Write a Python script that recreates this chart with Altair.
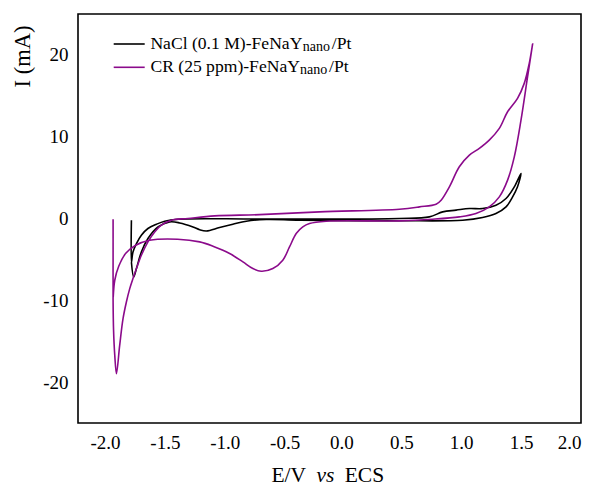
import altair as alt
import pandas as pd

# ---- data (E in V vs ECS, I in mA) ----
nacl_E = [-1.754, -1.754, -1.741, -1.712, -1.671, -1.616, -1.545, -1.476, -1.365, -0.684,
          0.484, 0.734, 0.845, 0.957, 1.068, 1.178, 1.290, 1.374, 1.443, 1.499,
          1.470, 1.429, 1.374, 1.290, 1.178, 1.012, 0.484, -0.350, -0.628, -0.795,
          -0.907, -1.018, -1.128, -1.184, -1.240, -1.351, -1.435, -1.532, -1.616, -1.671,
          -1.712, -1.735, -1.754]
nacl_I = [-0.21, -5.35, -4.09, -3.06, -2.04, -1.22, -0.70, -0.33, -0.09, -0.06,
          0.00, 0.20, 0.81, 1.02, 1.22, 1.22, 1.63, 2.45, 3.87, 5.51,
          3.87, 2.64, 1.42, 0.61, 0.12, -0.21, -0.27, -0.21, -0.12, -0.33,
          -0.70, -1.10, -1.52, -1.37, -1.03, -0.54, -0.42, -1.03, -2.45, -4.09,
          -6.12, -7.15, -5.35]

cr_E = [-1.907, -1.907, -1.907, -1.903, -1.893, -1.879, -1.852, -1.824, -1.796, -1.768,
        -1.741, -1.712, -1.671, -1.616, -1.560, -1.504, -1.420, -1.282, -1.059, -0.684,
        -0.183, 0.484, 0.651, 0.790, 0.832, 0.901, 0.984, 1.068, 1.151, 1.234,
        1.318, 1.387, 1.470, 1.526, 1.568, 1.596, 1.554, 1.499, 1.443, 1.387,
        1.318, 1.234, 1.123, 0.984, 0.761, 0.484, -0.128, -0.267, -0.323, -0.378,
        -0.434, -0.490, -0.573, -0.670, -0.740, -0.823, -0.934, -1.073, -1.184, -1.368,
        -1.601, -1.718, -1.801, -1.860, -1.893, -1.906]
cr_I = [-0.09, -5.10, -10.0, -13.67, -16.73, -18.97, -15.51, -12.24, -10.21, -8.57,
        -7.34, -6.12, -4.49, -2.86, -1.64, -0.82, -0.21, 0.00, 0.32, 0.47,
        0.81, 1.14, 1.42, 1.75, 2.24, 3.87, 6.32, 7.75, 8.57, 9.58,
        11.02, 13.05, 14.69, 16.52, 18.97, 21.33, 17.33, 12.03, 7.54, 4.69,
        2.64, 1.42, 0.61, 0.20, -0.09, -0.29, -0.33, -0.61, -1.03, -1.84,
        -3.48, -5.10, -6.12, -6.45, -6.12, -5.31, -4.28, -3.39, -2.86, -2.53,
        -2.66, -3.27, -4.25, -5.84, -7.55, -9.63]

series_names = ["NaCl", "CR"]
series_colors = ["#000000", "#8b0a8b"]
x_ticks = [-2.0, -1.5, -1.0, -0.5, 0.0, 0.5, 1.0, 1.5, 2.0]
y_ticks = [-20, -10, 0, 10, 20]

rows = []
for i, (e, c) in enumerate(zip(nacl_E, nacl_I)):
    rows.append({"series": "NaCl", "E": e, "I": c, "idx": i})
for i, (e, c) in enumerate(zip(cr_E, cr_I)):
    rows.append({"series": "CR", "E": e, "I": c, "idx": i})
df = pd.DataFrame(rows)

FONT = "Liberation Serif"
W, H = 503, 409

xscale = alt.Scale(domain=[-2.2, 2.0], nice=False, zero=False)
yscale = alt.Scale(domain=[-25, 25], nice=False, zero=False)

lines = alt.Chart(df).mark_line(strokeWidth=1.6, interpolate="catmull-rom").encode(
    x=alt.X("E:Q", scale=xscale,
            axis=alt.Axis(values=x_ticks, format=".1f", title=None, ticks=False, grid=False,
                          domain=False, labelFont=FONT, labelFontSize=19, labelColor="black",
                          labelBaseline="alphabetic", labelPadding=25.6,
                          labelOffset={"condition": {"test": "datum.value < 0", "value": 3}, "value": 0},
                          labelExpr="replace(datum.label, '\u2212', '-')")),
    y=alt.Y("I:Q", scale=yscale,
            axis=alt.Axis(values=y_ticks, format="d", title="I (mA)", ticks=False, grid=False,
                          domain=False, labelFont=FONT, labelFontSize=19, labelColor="black",
                          labelPadding=10, labelBaseline="middle",
                          labelExpr="replace(datum.label, '\u2212', '-')",
                          titleFont=FONT, titleFontSize=22.5, titleFontWeight="normal",
                          titleColor="black", titleX=-55.8, titleY=42, titleAngle=-90,
                          titleAlign="center", titleBaseline="middle")),
    color=alt.Color("series:N", scale=alt.Scale(domain=series_names, range=series_colors), legend=None),
    detail="series:N",
    order="idx:Q",
)

# ---- custom legend (line samples + text with subscript) ----
leg1 = alt.Chart(pd.DataFrame({"a": [0]})).mark_rule(color="#000000", strokeWidth=1.6).encode(
    x=alt.value(35.7), x2=alt.value(66.7), y=alt.value(30))
leg2 = alt.Chart(pd.DataFrame({"a": [0]})).mark_rule(color="#8b0a8b", strokeWidth=1.6).encode(
    x=alt.value(35.7), x2=alt.value(66.7), y=alt.value(53.3))

def txt(s, x, y, size, italic=False):
    return alt.Chart(pd.DataFrame({"t": [s]})).mark_text(
        font=FONT, fontSize=size, align="left", baseline="alphabetic", color="black",
        fontStyle="italic" if italic else "normal"
    ).encode(text="t:N", x=alt.value(x), y=alt.value(y))

legend_txt = [
    txt("NaCl (0.1 M)-FeNaY", 72.4, 35, 17.6),
    txt("nano", 224.8, 36.5, 14),
    txt("/Pt", 253.8, 35, 17.6),
    txt("CR (25 ppm)-FeNaY", 72.4, 58.3, 17.6),
    txt("nano", 222.0, 59.8, 14),
    txt("/Pt", 251.0, 58.3, 17.6),
]

xtitle = [
    txt("E/V", 193.4, 468, 21.5),
    txt("vs", 238.4, 468, 21.5, italic=True),
    txt("ECS", 266.7, 468, 21.5),
]

chart = alt.layer(lines, leg1, leg2, *legend_txt, *xtitle).properties(
    width=W, height=H,
    autosize=alt.AutoSizeParams(type="none"),
    padding={"left": 70, "top": 6, "right": 5, "bottom": 64},
    background="white",
).configure_view(stroke="black", strokeWidth=1.6).configure_axis(
    labelFont=FONT, titleFont=FONT
).configure_text(font=FONT)

chart.save("out.html", embed_options={"renderer": "svg", "actions": False})
